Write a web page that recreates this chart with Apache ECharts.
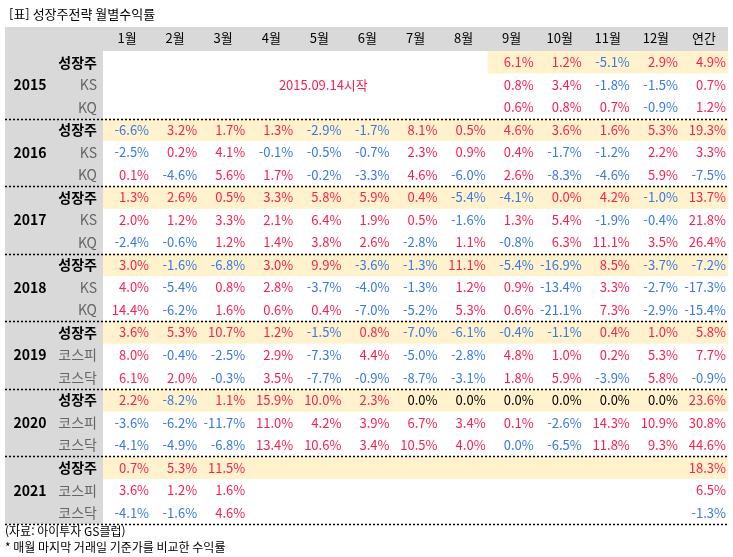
<!DOCTYPE html>
<html lang="ko">
<head>
<meta charset="UTF-8">
<title>성장주전략 월별수익률</title>
<script src="https://cdn.jsdelivr.net/npm/echarts@6/dist/echarts.min.js"></script>
<style>body{margin:0;background:#fff}</style>
</head>
<body>
<div id="main" style="width:733px;height:557px"></div>
<script>
var months = ['1월','2월','3월','4월','5월','6월','7월','8월','9월','10월','11월','12월','연간'];
var years = ['2015','2016','2017','2018','2019','2020','2021'];
var rowLabels = ['성장주','KS','KQ','성장주','KS','KQ','성장주','KS','KQ','성장주','KS','KQ',
                 '성장주','코스피','코스닥','성장주','코스피','코스닥','성장주','코스피','코스닥'];
var n = null;
var r2015a = [n,n,n,n,n,n,n,n,6.1,1.2,-5.1,2.9,4.9];
var r2015b = [n,n,n,n,n,n,n,n,0.8,3.4,-1.8,-1.5,0.7];
var r2015c = [n,n,n,n,n,n,n,n,0.6,0.8,0.7,-0.9,1.2];
var r2016a = [-6.6,3.2,1.7,1.3,-2.9,-1.7,8.1,0.5,4.6,3.6,1.6,5.3,19.3];
var r2016b = [-2.5,0.2,4.1,-0.1,-0.5,-0.7,2.3,0.9,0.4,-1.7,-1.2,2.2,3.3];
var r2016c = [0.1,-4.6,5.6,1.7,-0.2,-3.3,4.6,-6.0,2.6,-8.3,-4.6,5.9,-7.5];
var r2017a = [1.3,2.6,0.5,3.3,5.8,5.9,0.4,-5.4,-4.1,0.0,4.2,-1.0,13.7];
var r2017b = [2.0,1.2,3.3,2.1,6.4,1.9,0.5,-1.6,1.3,5.4,-1.9,-0.4,21.8];
var r2017c = [-2.4,-0.6,1.2,1.4,3.8,2.6,-2.8,1.1,-0.8,6.3,11.1,3.5,26.4];
var r2018a = [3.0,-1.6,-6.8,3.0,9.9,-3.6,-1.3,11.1,-5.4,-16.9,8.5,-3.7,-7.2];
var r2018b = [4.0,-5.4,0.8,2.8,-3.7,-4.0,-1.3,1.2,0.9,-13.4,3.3,-2.7,-17.3];
var r2018c = [14.4,-6.2,1.6,0.6,0.4,-7.0,-5.2,5.3,0.6,-21.1,7.3,-2.9,-15.4];
var r2019a = [3.6,5.3,10.7,1.2,-1.5,0.8,-7.0,-6.1,-0.4,-1.1,0.4,1.0,5.8];
var r2019b = [8.0,-0.4,-2.5,2.9,-7.3,4.4,-5.0,-2.8,4.8,1.0,0.2,5.3,7.7];
var r2019c = [6.1,2.0,-0.3,3.5,-7.7,-0.9,-8.7,-3.1,1.8,5.9,-3.9,5.8,-0.9];
var r2020a = [2.2,-8.2,1.1,15.9,10.0,2.3,0.0,0.0,0.0,0.0,0.0,0.0,23.6];
var r2020b = [-3.6,-6.2,-11.7,11.0,4.2,3.9,6.7,3.4,0.1,-2.6,14.3,10.9,30.8];
var r2020c = [-4.1,-4.9,-6.8,13.4,10.6,3.4,10.5,4.0,0.0,-6.5,11.8,9.3,44.6];
var r2021a = [0.7,5.3,11.5,n,n,n,n,n,n,n,n,n,18.3];
var r2021b = [3.6,1.2,1.6,n,n,n,n,n,n,n,n,n,6.5];
var r2021c = [-4.1,-1.6,4.6,n,n,n,n,n,n,n,n,n,-1.3];
var rows = [r2015a,r2015b,r2015c,r2016a,r2016b,r2016c,r2017a,r2017b,r2017c,r2018a,r2018b,r2018c,
            r2019a,r2019b,r2019c,r2020a,r2020b,r2020c,r2021a,r2021b,r2021c];
// colour of zero cells, by "row-col"
var zeroColor = {'6-9':'#ff1f4f','17-8':'#3a78e6'};

var RED = '#ff1f4f', BLUE = '#3a78e6';
var FONT = '"Noto Sans CJK KR", sans-serif';

var cells = [];
rows.forEach(function (r, ri) {
  r.forEach(function (v, ci) { if (v !== null) cells.push([ci, ri, v]); });
});
var bands = [];
rows.forEach(function (r, ri) { if (ri % 3 === 0) bands.push([ri === 0 ? 8 : 0, ri]); });
// row index just above each dotted separator
var seps = [[0,2],[0,5],[0,8],[0,11],[0,14],[0,17],[0,20]];

var myChart = echarts.init(document.getElementById('main'));
var option = {
  animation: false,
  textStyle: {fontFamily: FONT},
  title: {text: '[표] 성장주전략 월별수익률', left: 4, top: 3,
    textStyle: {fontSize: 13, fontWeight: 'normal', color: '#000', fontFamily: FONT}},
  graphic: [
    {type: 'rect', z: -10, shape: {x: 5, y: 27, width: 723, height: 24}, style: {fill: '#d9d9d9'}},
    {type: 'rect', z: -10, shape: {x: 5, y: 27, width: 98, height: 497}, style: {fill: '#d9d9d9'}},
    {type: 'text', left: 5, top: 525, style: {text: '(자료: 아이투자 GS클럽)', fontSize: 12, fill: '#000', fontFamily: FONT}},
    {type: 'text', left: 5, top: 541, style: {text: '* 매월 마지막 거래일 기준가를 비교한 수익률', fontSize: 12, fill: '#000', fontFamily: FONT}}
  ],
  grid: {left: 103, right: 5, top: 51, bottom: 33},
  xAxis: {type: 'category', data: months, position: 'top',
    axisLine: {show: false}, axisTick: {show: false}, splitLine: {show: false},
    axisLabel: {color: '#000', fontSize: 13, margin: 6, interval: 0}},
  yAxis: {type: 'category', data: rowLabels.map(function (s, i) { return i; }), inverse: true,
    axisLine: {show: false}, axisTick: {show: false},
    axisLabel: {margin: 6, interval: 0,
      formatter: function (v) { var s = rowLabels[+v]; return s === '성장주' ? '{b|' + s + '}' : '{g|' + s + '}'; },
      rich: {b: {fontSize: 14, fontWeight: 'bold', color: '#000'}, g: {fontSize: 14, color: '#666'}}}},
  series: [
    {type: 'custom', z: 1, data: bands,
      renderItem: function (p, api) {
        var a = api.coord([api.value(0), api.value(1)]), s = api.size([1, 1]);
        return {type: 'rect', shape: {x: a[0] - s[0] / 2, y: a[1] - s[1] / 2,
          width: 728 - (a[0] - s[0] / 2), height: s[1]}, style: {fill: '#fff2cc'}};
      }},
    {type: 'custom', z: 3, data: seps,
      renderItem: function (p, api) {
        var a = api.coord([api.value(0), api.value(1)]), s = api.size([1, 1]);
        var y = Math.round(a[1] + s[1] / 2) + 0.5;
        return {type: 'line', shape: {x1: 5, y1: y, x2: 728, y2: y},
          style: {stroke: '#000', lineWidth: 1.5, lineDash: [2, 2]}};
      }},
    {type: 'custom', z: 4, data: years.map(function (y, i) { return [0, i * 3 + 1]; }),
      renderItem: function (p, api) {
        var a = api.coord([0, api.value(1)]);
        return {type: 'text', style: {x: 30, y: a[1], text: years[p.dataIndex], textAlign: 'center',
          textVerticalAlign: 'middle', fontSize: 14, fontWeight: 'bold', fill: '#000', fontFamily: FONT}};
      }},
    {type: 'custom', z: 4, data: [[3.5, 1]],
      renderItem: function (p, api) {
        var a = api.coord([api.value(0), api.value(1)]);
        return {type: 'text', style: {x: a[0] + 4, y: a[1], text: '2015.09.14시작', textAlign: 'center',
          textVerticalAlign: 'middle', fontSize: 13, fill: RED, fontFamily: FONT}};
      }},
    {type: 'custom', z: 4, data: cells,
      renderItem: function (p, api) {
        var c = api.value(0), r = api.value(1), v = api.value(2);
        var a = api.coord([c, r]), s = api.size([1, 1]);
        var col = v > 0 ? RED : v < 0 ? BLUE : (zeroColor[r + '-' + c] || '#000');
        return {type: 'text', style: {x: a[0] + s[0] / 2 - 2, y: a[1], text: v.toFixed(1) + '%',
          textAlign: 'right', textVerticalAlign: 'middle', fontSize: 13, fill: col, fontFamily: FONT}};
      }}
  ]
};
myChart.setOption(option);
</script>
</body>
</html>
